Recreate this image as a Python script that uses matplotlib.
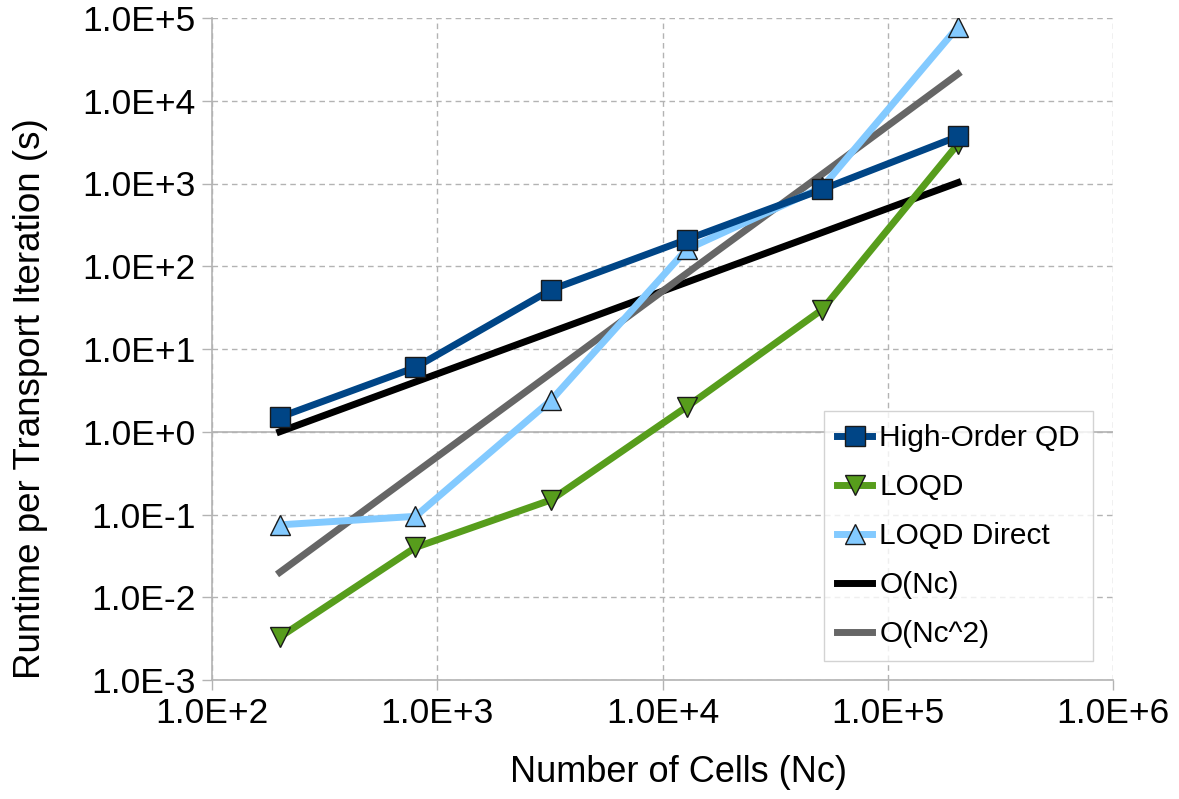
import matplotlib
matplotlib.use("Agg")
import matplotlib.pyplot as plt
from matplotlib.ticker import FixedLocator, NullLocator

plt.rcParams['font.family'] = ['Liberation Sans', 'DejaVu Sans']

# Mesh sizes and timing results
cells = [200, 800, 3200, 12800, 51200, 204800]
high_order_qd = [1.5, 6.0, 52, 210, 850, 3700]
loqd = [0.0033, 0.040, 0.15, 2.0, 30, 3000]
loqd_direct = [0.075, 0.095, 2.4, 160, 900, 78000]
order_nc = [1, 4, 16, 64, 256, 1024]
order_nc2 = [0.02, 0.32, 5.1, 82, 1300, 21000]

x_ticks = [1e2, 1e3, 1e4, 1e5, 1e6]
x_tick_labels = ["1.0E+2", "1.0E+3", "1.0E+4", "1.0E+5", "1.0E+6"]
y_ticks = [1e-3, 1e-2, 1e-1, 1e0, 1e1, 1e2, 1e3, 1e4, 1e5]
y_tick_labels = ["1.0E-3", "1.0E-2", "1.0E-1", "1.0E+0", "1.0E+1",
                 "1.0E+2", "1.0E+3", "1.0E+4", "1.0E+5"]

fig = plt.figure(figsize=(11.79, 7.99), dpi=100)
ax = fig.add_axes([212 / 1179, 1 - 680 / 799, (1113 - 212) / 1179, (680 - 18) / 799])

ax.set_xscale('log')
ax.set_yscale('log')
ax.set_xlim(1e2, 1e6)
ax.set_ylim(1e-3, 1e5)

grid_c = '#b3b3b3'
ax.xaxis.set_major_locator(FixedLocator(x_ticks))
ax.yaxis.set_major_locator(FixedLocator(y_ticks))
ax.xaxis.set_minor_locator(NullLocator())
ax.yaxis.set_minor_locator(NullLocator())
ax.set_xticklabels(x_tick_labels)
ax.set_yticklabels(y_tick_labels)
ax.grid(True, which='major', color=grid_c, linestyle=(0, (4, 3)), linewidth=1.0, zorder=0)
ax.axhline(1.0, color=grid_c, linewidth=1.2, zorder=1)

for side in ('top', 'right'):
    ax.spines[side].set_visible(False)
for side in ('left', 'bottom'):
    ax.spines[side].set_color(grid_c)
    ax.spines[side].set_linewidth(1.2)

ax.tick_params(axis='both', which='major', direction='out', length=7, width=1,
               color=grid_c, labelsize=25.5, pad=5)

lw = 5
ms = 14
ax.plot(cells, high_order_qd, color='#004586', lw=lw, marker='s', ms=ms,
        mfc='#004586', mec='#1a1a1a', mew=1.0, label='High-Order QD', zorder=5)
ax.plot(cells, loqd, color='#579d1c', lw=lw, marker='v', ms=ms,
        mfc='#579d1c', mec='#1a1a1a', mew=1.0, label='LOQD', zorder=4)
ax.plot(cells, loqd_direct, color='#83caff', lw=lw, marker='^', ms=ms,
        mfc='#83caff', mec='#1a1a1a', mew=1.0, label='LOQD Direct', zorder=4)
ax.plot(cells, order_nc, color='#000000', lw=lw, label='O(Nc)', zorder=3)
ax.plot(cells, order_nc2, color='#666666', lw=lw, label='O(Nc^2)', zorder=3)

ax.set_xlabel('Number of Cells (Nc)', fontsize=26)
ax.set_ylabel('Runtime per Transport Iteration (s)', fontsize=26.5)
ax.xaxis.set_label_coords((678 - 212) / 901, -(773 - 680) / 662)
ax.xaxis.label.set_va('center')
ax.yaxis.set_label_coords(-(212 - 31) / 901, (680 - 399) / 662)
ax.yaxis.label.set_va('center')

leg = ax.legend(loc='upper left', bbox_to_anchor=(824 / 1179, 1 - 411 / 799),
                bbox_transform=fig.transFigure, fontsize=21.5, frameon=True,
                fancybox=False, edgecolor='#c8c8c8', handlelength=1.15,
                handletextpad=0.25, labelspacing=0.7, borderpad=0.45,
                borderaxespad=0)
leg.get_frame().set_linewidth(1.0)
leg.set_zorder(10)

fig.savefig('out.png', dpi=100)
